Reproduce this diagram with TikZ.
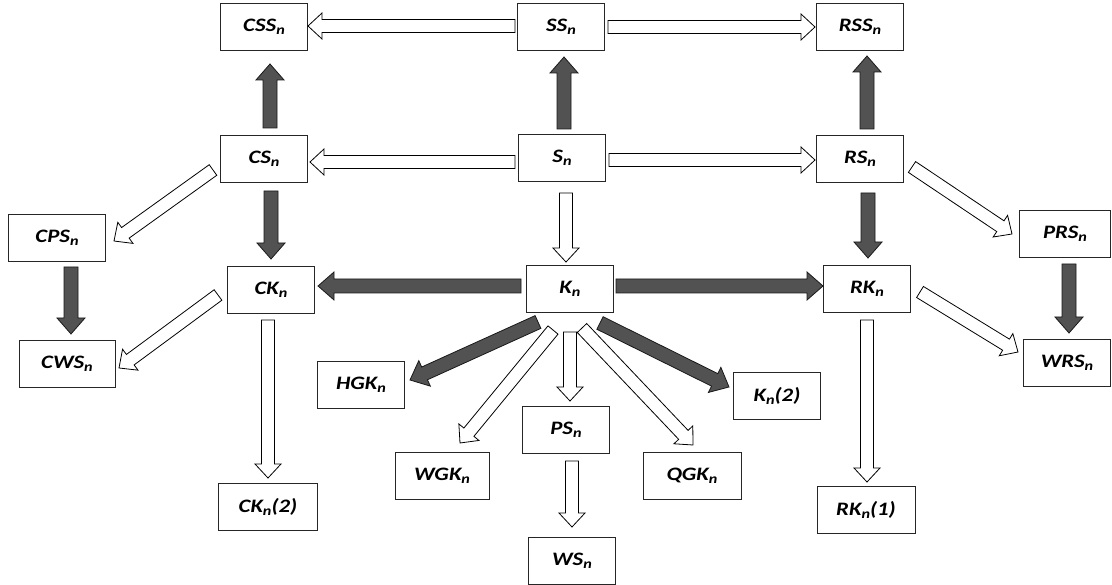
\documentclass[tikz,border=0pt]{standalone}
\usepackage{fontspec}
\setmainfont{Carlito}
\newfontfamily\labfont[FakeStretch=1.2]{Carlito}
\usetikzlibrary{calc}
\newcommand\nsub{\raisebox{-2.5pt}{\fontsize{13.5}{13.5}\selectfont n}}
\newcommand\blockarrow[6]{%
  \coordinate (bs) at #5;
  \coordinate (be) at #6;
  \coordinate (bh) at ($(be)!#4!(bs)$);
  \draw[#1] ($(bs)!#2!90:(be)$) -- ($(bh)!#2!90:(be)$) -- ($(bh)!#3!90:(be)$) -- (be)
    -- ($(bh)!#3!-90:(be)$) -- ($(bh)!#2!-90:(be)$) -- ($(bs)!#2!-90:(be)$) -- cycle;}
\newcommand\hollowarrow[2]{\blockarrow{hollowarr}{6.5pt}{13pt}{14pt}{#1}{#2}}
\newcommand\darkarrow[2]{\blockarrow{darkarr}{7pt}{14pt}{16pt}{#1}{#2}}
\begin{document}
\begin{tikzpicture}[x=1pt,y=-1pt,
  box/.style={draw=black!85, line width=0.8pt, minimum width=87pt, minimum height=47pt,
    inner sep=0pt, font=\labfont\fontsize{19}{22}\selectfont\bfseries\itshape},
  hollowarr/.style={draw=black, line width=0.8pt, fill=white, line join=miter},
  darkarr/.style={draw=black!90, line width=0.8pt, fill=black!68, line join=miter}]
\useasboundingbox (0,0) rectangle (1112,585);
% nodes
\node[box] (CSS) at (264,27) {CSS\nsub};
\node[box] (SS)  at (561,27) {SS\nsub};
\node[box] (RSS) at (860,27) {RSS\nsub};
\node[box] (CS)  at (264,159) {CS\nsub};
\node[box] (S)   at (562,158) {S\nsub};
\node[box] (RS)  at (860,159) {RS\nsub};
\node[box, minimum width=97pt] (CPS) at (57,238) {CPS\nsub};
\node[box] (CK)  at (271,290) {CK\nsub};
\node[box, minimum width=96pt] (CWS) at (67,364) {CWS\nsub};
\node[box] (K)   at (570,289) {K\nsub};
\node[box] (RK)  at (867,289) {RK\nsub};
\node[box, minimum width=91pt] (PRS) at (1065,234) {PRS\nsub};
\node[box] (WRS) at (1067,363) {WRS\nsub};
\node[box] (K2)  at (777,396) {K\nsub(2)};
\node[box] (PS)  at (566,430) {PS\nsub};
\node[box, minimum width=94pt] (WGK) at (442,476) {WGK\nsub};
\node[box, minimum width=98pt] (QGK) at (692,476) {QGK\nsub};
\node[box] (WS)  at (572,561) {WS\nsub};
\node[box] (HGK) at (361,385) {HGK\nsub};
\node[box, minimum width=99pt] (CK2) at (268,507) {CK\nsub(2)};
\node[box, minimum width=98pt] (RK1) at (866,510) {RK\nsub(1)};
% arrows
\hollowarrow{($(SS)+(-46,-1)$)}{($(CSS)+(44,-1)$)}
\hollowarrow{($(SS)+(47,0)$)}{($(RSS)+(-45,0)$)}
\darkarrow{($(CS)+(6,-31)$)}{($(CSS)+(6,37)$)}
\darkarrow{($(S)+(2,-29)$)}{($(SS)+(3,30)$)}
\darkarrow{($(RS)+(7,-30)$)}{($(RSS)+(7,29)$)}
\hollowarrow{($(S)+(-47,4)$)}{($(CS)+(46,3)$)}
\hollowarrow{($(S)+(47,2)$)}{($(RS)+(-45,1)$)}
\hollowarrow{($(CS)+(-51,11)$)}{($(CPS)+(57,3)$)}
\darkarrow{($(CS)+(7,32)$)}{($(CK)+(0,-31)$)}
\darkarrow{($(CPS)+(14,29)$)}{($(CWS)+(4,-30)$)}
\hollowarrow{($(CK)+(-53,5)$)}{($(CWS)+(52,4)$)}
\darkarrow{($(K)+(-49,-3)$)}{($(CK)+(47,-4)$)}
\darkarrow{($(K)+(46,-3)$)}{($(RK)+(-44,-3)$)}
\hollowarrow{($(S)+(4,35)$)}{($(K)+(-4,-27)$)}
\darkarrow{($(RS)+(8,34)$)}{($(RK)+(1,-31)$)}
\hollowarrow{($(RS)+(52,8)$)}{($(PRS)+(-53,0)$)}
\darkarrow{($(PRS)+(4,30)$)}{($(WRS)+(2,-30)$)}
\hollowarrow{($(RK)+(53,3)$)}{($(WRS)+(-49,-11)$)}
\hollowarrow{($(RK)+(0,31)$)}{($(RK1)+(1,-28)$)}
\hollowarrow{($(CK)+(-3,30)$)}{($(CK2)+(0,-29)$)}
\darkarrow{($(K)+(-32,33)$)}{($(HGK)+(49,-5)$)}
\hollowarrow{($(K)+(-17,41)$)}{($(WGK)+(18,-33)$)}
\hollowarrow{($(K)+(0,43)$)}{($(PS)+(4,-29)$)}
\hollowarrow{($(K)+(12,39)$)}{($(QGK)+(1,-31)$)}
\darkarrow{($(K)+(30,34)$)}{($(K2)+(-48,-9)$)}
\hollowarrow{($(PS)+(6,31)$)}{($(WS)+(0,-34)$)}
\end{tikzpicture}
\end{document}
